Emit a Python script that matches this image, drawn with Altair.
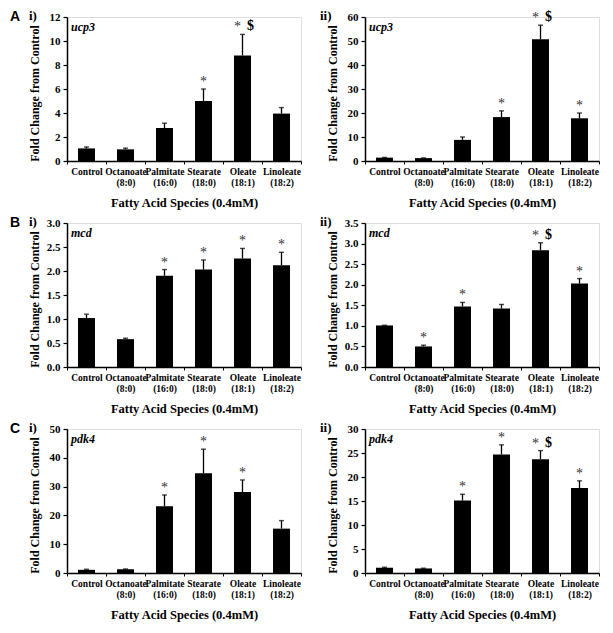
import altair as alt
import pandas as pd

categories = ["Control", "Octanoate|(8:0)", "Palmitate|(16:0)", "Stearate|(18:0)", "Oleate|(18:1)", "Linoleate|(18:2)"]

ucp3_i_values = [1.05, 0.97, 2.75, 5.0, 8.8, 3.95]
ucp3_i_errors = [0.12, 0.1, 0.4, 1.0, 1.75, 0.5]
ucp3_i_star = [0, 0, 0, 1, 1, 0]
ucp3_i_dollar = [0, 0, 0, 0, 1, 0]

ucp3_ii_values = [1.4, 1.2, 8.8, 18.3, 50.7, 17.8]
ucp3_ii_errors = [0.1, 0.1, 1.2, 2.6, 5.9, 2.2]
ucp3_ii_star = [0, 0, 0, 1, 1, 1]
ucp3_ii_dollar = [0, 0, 0, 0, 1, 0]

mcd_i_values = [1.02, 0.58, 1.9, 2.03, 2.26, 2.12]
mcd_i_errors = [0.08, 0.02, 0.13, 0.2, 0.21, 0.27]
mcd_i_star = [0, 0, 1, 1, 1, 1]
mcd_i_dollar = [0, 0, 0, 0, 0, 0]

mcd_ii_values = [1.01, 0.5, 1.47, 1.42, 2.84, 2.03]
mcd_ii_errors = [0.005, 0.03, 0.1, 0.1, 0.18, 0.12]
mcd_ii_star = [0, 1, 1, 0, 1, 1]
mcd_ii_dollar = [0, 0, 0, 0, 1, 0]

pdk4_i_values = [1.1, 1.3, 23.2, 34.6, 28.1, 15.4]
pdk4_i_errors = [0.2, 0.1, 3.9, 8.4, 4.2, 2.8]
pdk4_i_star = [0, 0, 1, 1, 1, 0]
pdk4_i_dollar = [0, 0, 0, 0, 0, 0]

pdk4_ii_values = [1.1, 0.95, 15.1, 24.7, 23.7, 17.7]
pdk4_ii_errors = [0.1, 0.05, 1.3, 2.0, 1.8, 1.5]
pdk4_ii_star = [0, 0, 1, 1, 1, 1]
pdk4_ii_dollar = [0, 0, 0, 0, 1, 0]

SERIF = "Liberation Serif"
W, H = 234, 144


def panel(values, errors, star, dollar, gene, ymax, ystep, fmt, letter, roman):
    df = pd.DataFrame({
        "cat": categories,
        "value": values,
        "top": [v + e for v, e in zip(values, errors)],
        "star": star,
        "dollar": dollar,
    })
    n = int(round(ymax / ystep))
    ticks = [round(i * ystep, 3) for i in range(n + 1)]
    xaxis = alt.Axis(title="Fatty Acid Species (0.4mM)", labelAngle=0,
                     labelExpr="split(datum.label, '|')",
                     labelLineHeight=11, labelFontSize=9.5,
                     labelFont=SERIF, labelFontWeight="bold", labelColor="black",
                     labelPadding=2, tickBand="extent", tickSize=3,
                     tickColor="black", domainColor="black", domainWidth=1.5,
                     titleFont=SERIF, titleFontSize=12.5, titleFontWeight="bold",
                     titleColor="black", titlePadding=10)
    xscale = alt.Scale(paddingInner=0, paddingOuter=0)
    yaxis = alt.Axis(title="Fold Change from Control", values=ticks, format=fmt,
                     labelOverlap=False, grid=False, tickSize=4, tickColor="black",
                     tickWidth=1.2, domainColor="black", domainWidth=1.5,
                     labelFont=SERIF, labelFontSize=11, labelFontWeight="bold",
                     labelColor="black", labelPadding=3,
                     titleFont=SERIF, titleFontSize=12, titleFontWeight="bold",
                     titleColor="black", titleX=-33, titleY=H / 2 + 4,
                     titleAngle=270, titleAlign="center", titleBaseline="middle")
    yscale = alt.Scale(domain=[0, ymax], nice=False, zero=True)

    def X():
        return alt.X("cat:N", sort=categories, scale=xscale, axis=xaxis)

    def Y(f):
        return alt.Y(f, scale=yscale, axis=yaxis)

    base = alt.Chart(df)
    bars = base.mark_bar(color="black", size=17).encode(x=X(), y=Y("value:Q"))
    err = base.mark_rule(color="black", strokeWidth=1.3).encode(
        x=X(), y=Y("value:Q"), y2="top:Q")
    cap = base.mark_tick(color="black", size=5, thickness=1.4, orient="horizontal").encode(
        x=X(), y=Y("top:Q"))
    star_only = base.transform_filter("datum.star == 1 && datum.dollar == 0").mark_text(
        text="*", font=SERIF, fontSize=14, fill="#333333", baseline="alphabetic", dy=-3).encode(
        x=X(), y=Y("top:Q"))
    star_d = base.transform_filter("datum.dollar == 1").mark_text(
        text="*", font=SERIF, fontSize=14, fill="#333333", baseline="alphabetic", dy=-3, dx=-5).encode(
        x=X(), y=Y("top:Q"))
    dol = base.transform_filter("datum.dollar == 1").mark_text(
        text="$", font=SERIF, fontSize=14, fontWeight="bold", fill="black",
        baseline="alphabetic", dy=-4, dx=8).encode(x=X(), y=Y("top:Q"))
    gene_t = alt.Chart(pd.DataFrame({"t": [gene]})).mark_text(
        font=SERIF, fontSize=12, fontStyle="italic", fontWeight="bold", fill="black",
        align="left", baseline="middle").encode(
        text="t:N", x=alt.value(4), y=alt.value(10))
    layers = [bars, err, cap, star_only, star_d, dol, gene_t]
    if letter:
        lt = alt.Chart(pd.DataFrame({"t": [letter]})).mark_text(
            font="Liberation Sans", fontSize=14, fontWeight="bold", fill="black",
            align="left", baseline="middle").encode(
            text="t:N", x=alt.value(-57), y=alt.value(0))
        layers.append(lt)
        rx = -38
    else:
        rx = -45
    rt = alt.Chart(pd.DataFrame({"t": [roman]})).mark_text(
        font=SERIF, fontSize=13, fontWeight="bold", fill="black",
        align="left", baseline="middle").encode(
        text="t:N", x=alt.value(rx), y=alt.value(-1))
    layers.append(rt)
    return alt.layer(*layers).properties(width=W, height=H)


a1 = panel(ucp3_i_values, ucp3_i_errors, ucp3_i_star, ucp3_i_dollar, "ucp3", 12, 2, "d", "A", "i)")
a2 = panel(ucp3_ii_values, ucp3_ii_errors, ucp3_ii_star, ucp3_ii_dollar, "ucp3", 60, 10, "d", None, "ii)")
b1 = panel(mcd_i_values, mcd_i_errors, mcd_i_star, mcd_i_dollar, "mcd", 3.0, 0.5, ".1f", "B", "i)")
b2 = panel(mcd_ii_values, mcd_ii_errors, mcd_ii_star, mcd_ii_dollar, "mcd", 3.5, 0.5, ".1f", None, "ii)")
c1 = panel(pdk4_i_values, pdk4_i_errors, pdk4_i_star, pdk4_i_dollar, "pdk4", 50, 10, "d", "C", "i)")
c2 = panel(pdk4_ii_values, pdk4_ii_errors, pdk4_ii_star, pdk4_ii_dollar, "pdk4", 30, 5, "d", None, "ii)")

chart = alt.concat(
    a1, a2, b1, b2, c1, c2, columns=2,
    spacing={"row": 62, "column": 64}, bounds="flush",
).properties(padding={"left": 1, "top": 1, "right": 1, "bottom": 1}).configure_view(
    stroke="#333", strokeWidth=1.2).configure(background="white")

chart.save("out.html", embed_options={"renderer": "svg", "actions": False})
